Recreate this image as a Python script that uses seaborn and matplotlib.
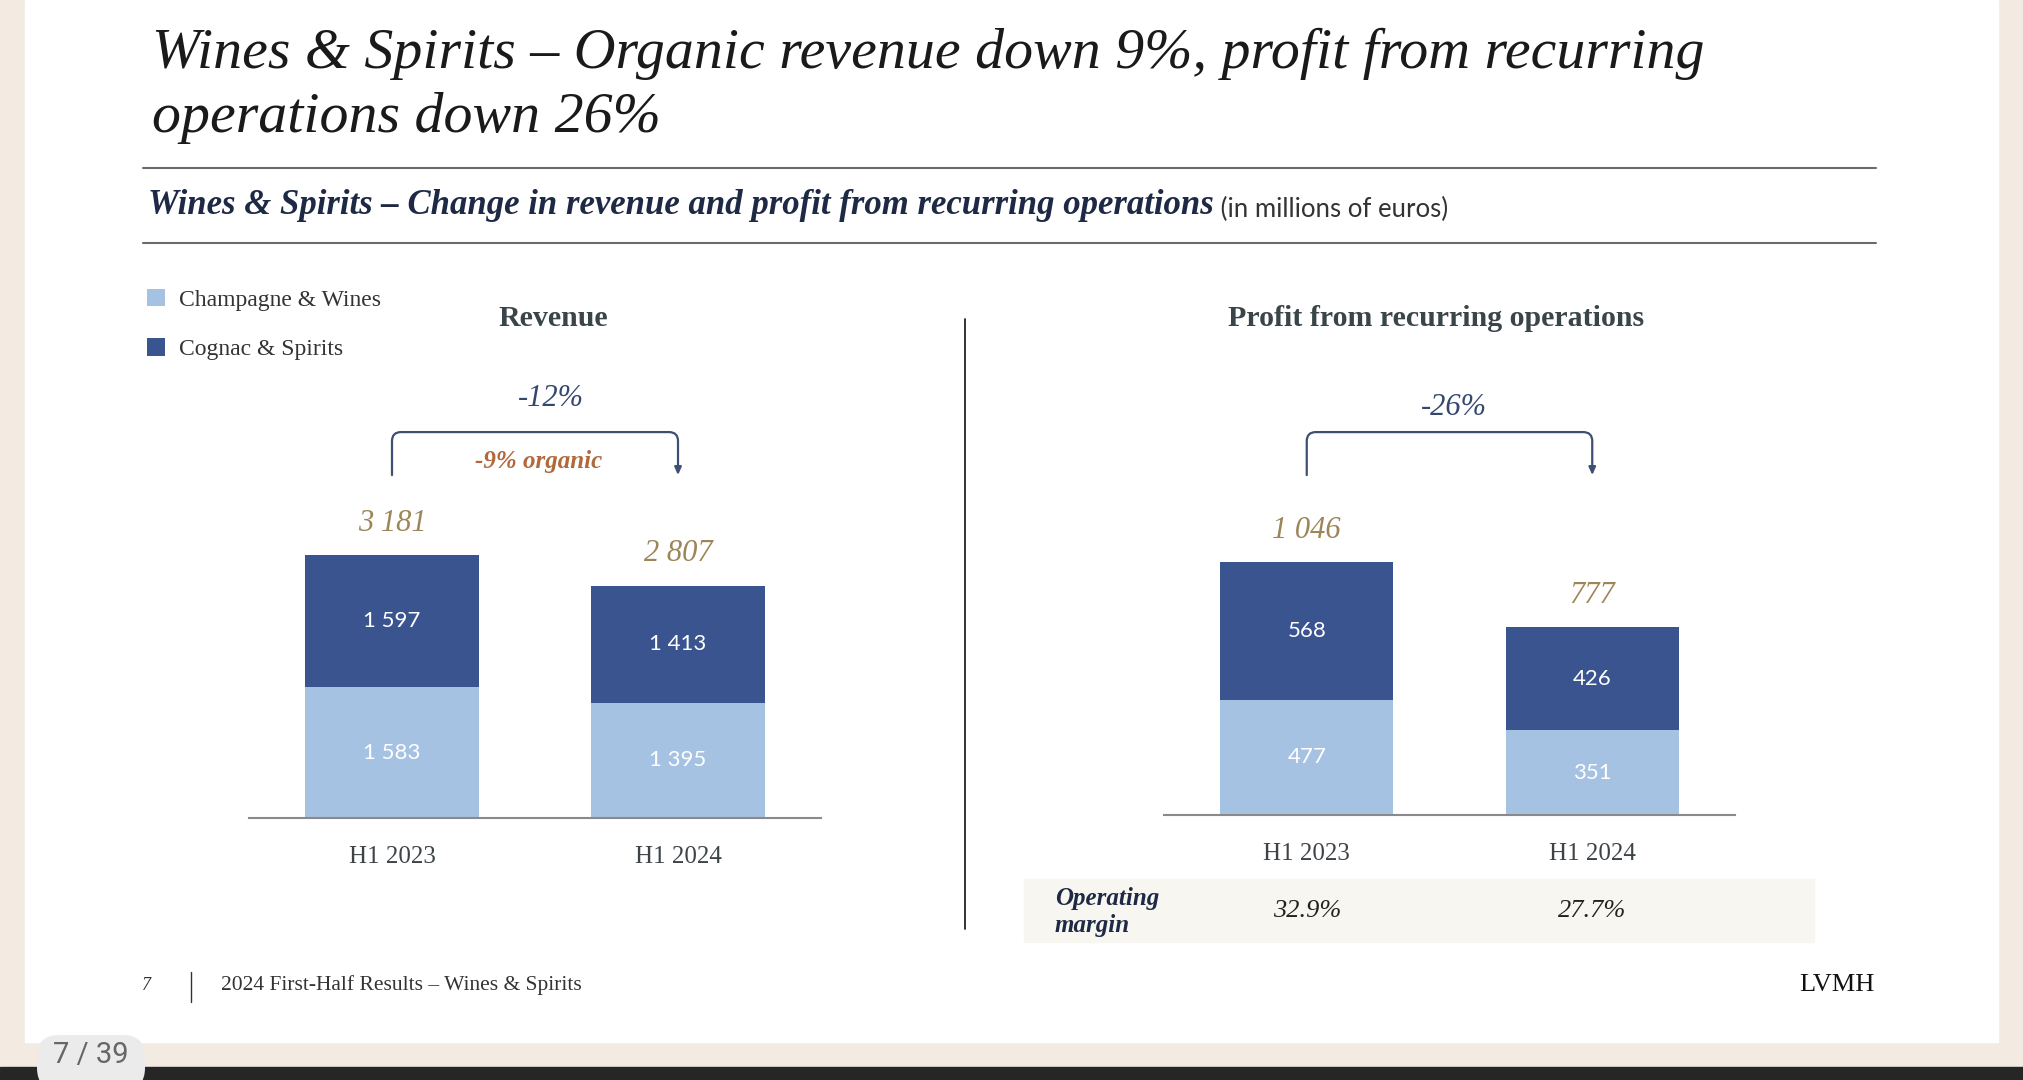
import matplotlib.pyplot as plt
import matplotlib.transforms as mtransforms
from matplotlib.patches import Rectangle, FancyBboxPatch
from matplotlib.lines import Line2D
import seaborn as sns

sns.set_style("white")
plt.rcParams["font.family"] = ["Liberation Serif", "DejaVu Serif"]

periods = ["H1 2023", "H1 2024"]
rev_champagne = [1583, 1395]
rev_cognac = [1597, 1413]
rev_total = [3181, 2807]
prof_champagne = [477, 351]
prof_cognac = [568, 426]
prof_total = [1046, 777]
op_margin = ["32.9%", "27.7%"]
series_names = ["Champagne & Wines", "Cognac & Spirits"]

LIGHT = "#a6c2e3"
DARK = "#3a5490"
GOLD = "#9c8658"
NAVY = "#34476f"
ORANGE = "#b2683a"
BEIGE = "#f3ebe1"


def fmt(v):
    return f"{v:,}".replace(",", " ")


fig = plt.figure(figsize=(20.24, 10.8), dpi=100, facecolor=BEIGE)

# slide background, bottom viewer bar
fig.add_artist(Rectangle((25 / 2024, 38 / 1080), 1973 / 2024, 1042 / 1080,
                         transform=fig.transFigure, color="white", zorder=-10))
fig.add_artist(Rectangle((0, 0), 1, 13 / 1080, transform=fig.transFigure,
                         color="#262626", zorder=-9))


def stacked(ax, champ, cognac, total, ymax):
    stack = [a + b for a, b in zip(champ, cognac)]
    sns.barplot(x=periods, y=stack, color=DARK, saturation=1, width=0.605, linewidth=0, ax=ax)
    sns.barplot(x=periods, y=champ, color=LIGHT, saturation=1, width=0.605, linewidth=0, ax=ax)
    ax.set_xlim(-0.5, 1.5)
    ax.set_ylim(0, ymax)
    ax.set_facecolor("none")
    sns.despine(ax=ax, left=True)
    ax.spines["bottom"].set_color("#8a8a8a")
    ax.spines["bottom"].set_linewidth(1.5)
    ax.set_yticks([])
    ax.set_xlabel("")
    ax.set_ylabel("")
    ax.tick_params(axis="x", length=0, pad=20, labelsize=18, labelcolor="#3d4448")
    for i in range(len(periods)):
        ax.text(i, champ[i] / 2, fmt(champ[i]), ha="center", va="center",
                color="white", fontsize=16, family="Lato")
        ax.text(i, champ[i] + cognac[i] / 2, fmt(cognac[i]), ha="center", va="center",
                color="white", fontsize=16, family="Lato")
        ax.annotate(fmt(total[i]), xy=(i, stack[i]), xytext=(0, 23),
                    textcoords="offset points", ha="center", va="center",
                    fontsize=22, style="italic", color=GOLD)


def bracket(ax, y, label, ly, lx):
    tr = mtransforms.blended_transform_factory(ax.transData, ax.transAxes)
    ax.annotate("", xy=(1, y), xytext=(0, y), xycoords=tr, annotation_clip=False,
                arrowprops=dict(arrowstyle="-|>,head_length=0.45,head_width=0.2",
                                connectionstyle="arc,angleA=90,angleB=90,armA=43,armB=43,rad=9",
                                color="#3d4f73", lw=1.6, shrinkA=0, shrinkB=0,
                                mutation_scale=10))
    ax.text(lx, ly, label, transform=tr, ha="center", va="center",
            fontsize=22, style="italic", color=NAVY)
    return tr


ax1 = fig.add_axes([249 / 2024, 262 / 1080, 572 / 2024, 518 / 1080])
stacked(ax1, rev_champagne, rev_cognac, rev_total, 6266)
tr1 = bracket(ax1, 0.662, "-12%", 0.809, 0.555)
ax1.text(0.513, 0.689, "-9% organic", transform=tr1, ha="center", va="center",
         fontsize=18, style="italic", weight="bold", color=ORANGE)

ax2 = fig.add_axes([1164 / 2024, 265 / 1080, 571 / 2024, 515 / 1080])
stacked(ax2, prof_champagne, prof_cognac, prof_total, 2128)
bracket(ax2, 0.660, "-26%", 0.792, 0.515)

# legend
fig.legend([ax1.containers[1], ax1.containers[0]], series_names,
           loc="upper left", bbox_to_anchor=(147 / 2024, 1 - 289 / 1080),
           frameon=False, fontsize=17, handlelength=0.76, handleheight=0.76,
           handletextpad=0.6, labelspacing=1.15, borderpad=0, borderaxespad=0,
           labelcolor="#333333")

# titles
fig.text(152 / 2024, 1 - 68 / 1080, "Wines & Spirits – Organic revenue down 9%, profit from recurring",
         fontsize=41.7, style="italic", color="#1a1a1a", va="baseline")
fig.text(152 / 2024, 1 - 132 / 1080, "operations down 26%",
         fontsize=41.7, style="italic", color="#1a1a1a", va="baseline")
for yy in (168, 243):
    fig.add_artist(Line2D([143 / 2024, 1876 / 2024], [1 - yy / 1080] * 2,
                          color="#6b6b6b", lw=1.5))
sub = fig.text(148 / 2024, 1 - 214 / 1080,
               "Wines & Spirits – Change in revenue and profit from recurring operations",
               fontsize=25, style="italic", weight="bold", color="#1e2a45", va="baseline")
plt.annotate(" (in millions of euros)", xy=(1, 0), xycoords=sub, va="bottom",
             fontsize=18.5, family="Lato", color="#333333")

fig.text(553 / 2024, 1 - 318 / 1080, "Revenue", ha="center", va="center",
         fontsize=21.5, weight="bold", color="#3a4549")
fig.text(1436 / 2024, 1 - 319 / 1080, "Profit from recurring operations", ha="center",
         va="center", fontsize=21.5, weight="bold", color="#3a4549")

# divider
fig.add_artist(Line2D([965 / 2024] * 2, [1 - 319 / 1080, 1 - 929 / 1080],
                      color="#222222", lw=1.3))

# operating margin row
fig.add_artist(Rectangle((1024 / 2024, 1 - 942 / 1080), 790 / 2024, 63 / 1080,
                         transform=fig.transFigure, color="#f8f6f1", zorder=-5))
fig.text(1055 / 2024, 1 - 912 / 1080, "Operating\nmargin", va="center", ha="left",
         fontsize=18, style="italic", weight="bold", color="#1e2a45", linespacing=1.2)
trm = mtransforms.blended_transform_factory(ax2.transData, fig.transFigure)
for i, m in enumerate(op_margin):
    ax2.text(i, 1 - 911 / 1080, m, transform=trm, ha="center", va="center",
             fontsize=19, style="italic", color="#222222")

# footer
fig.text(146 / 2024, 1 - 985 / 1080, "7", ha="center", va="center", fontsize=13,
         style="italic", color="#333333")
fig.add_artist(Line2D([191 / 2024] * 2, [1 - 972 / 1080, 1 - 1002 / 1080],
                      color="#333333", lw=1))
fig.text(221 / 2024, 1 - 985 / 1080, "2024 First-Half Results – Wines & Spirits",
         va="center", fontsize=15.5, color="#333333")
fig.text(1875 / 2024, 1 - 985 / 1080, "LVMH", ha="right", va="center", fontsize=19,
         color="#111111")

# page pill
fig.add_artist(FancyBboxPatch((37, -10), 108, 55, boxstyle="round,pad=0,rounding_size=22",
                              transform=mtransforms.IdentityTransform(),
                              facecolor="#ebebeb", edgecolor="none", zorder=3))
fig.text(91 / 2024, 25 / 1080, "7 / 39", ha="center", va="center", fontsize=21,
         family="Roboto", color="#666666", zorder=4)

fig.savefig("out.png", dpi=100, facecolor=BEIGE)
